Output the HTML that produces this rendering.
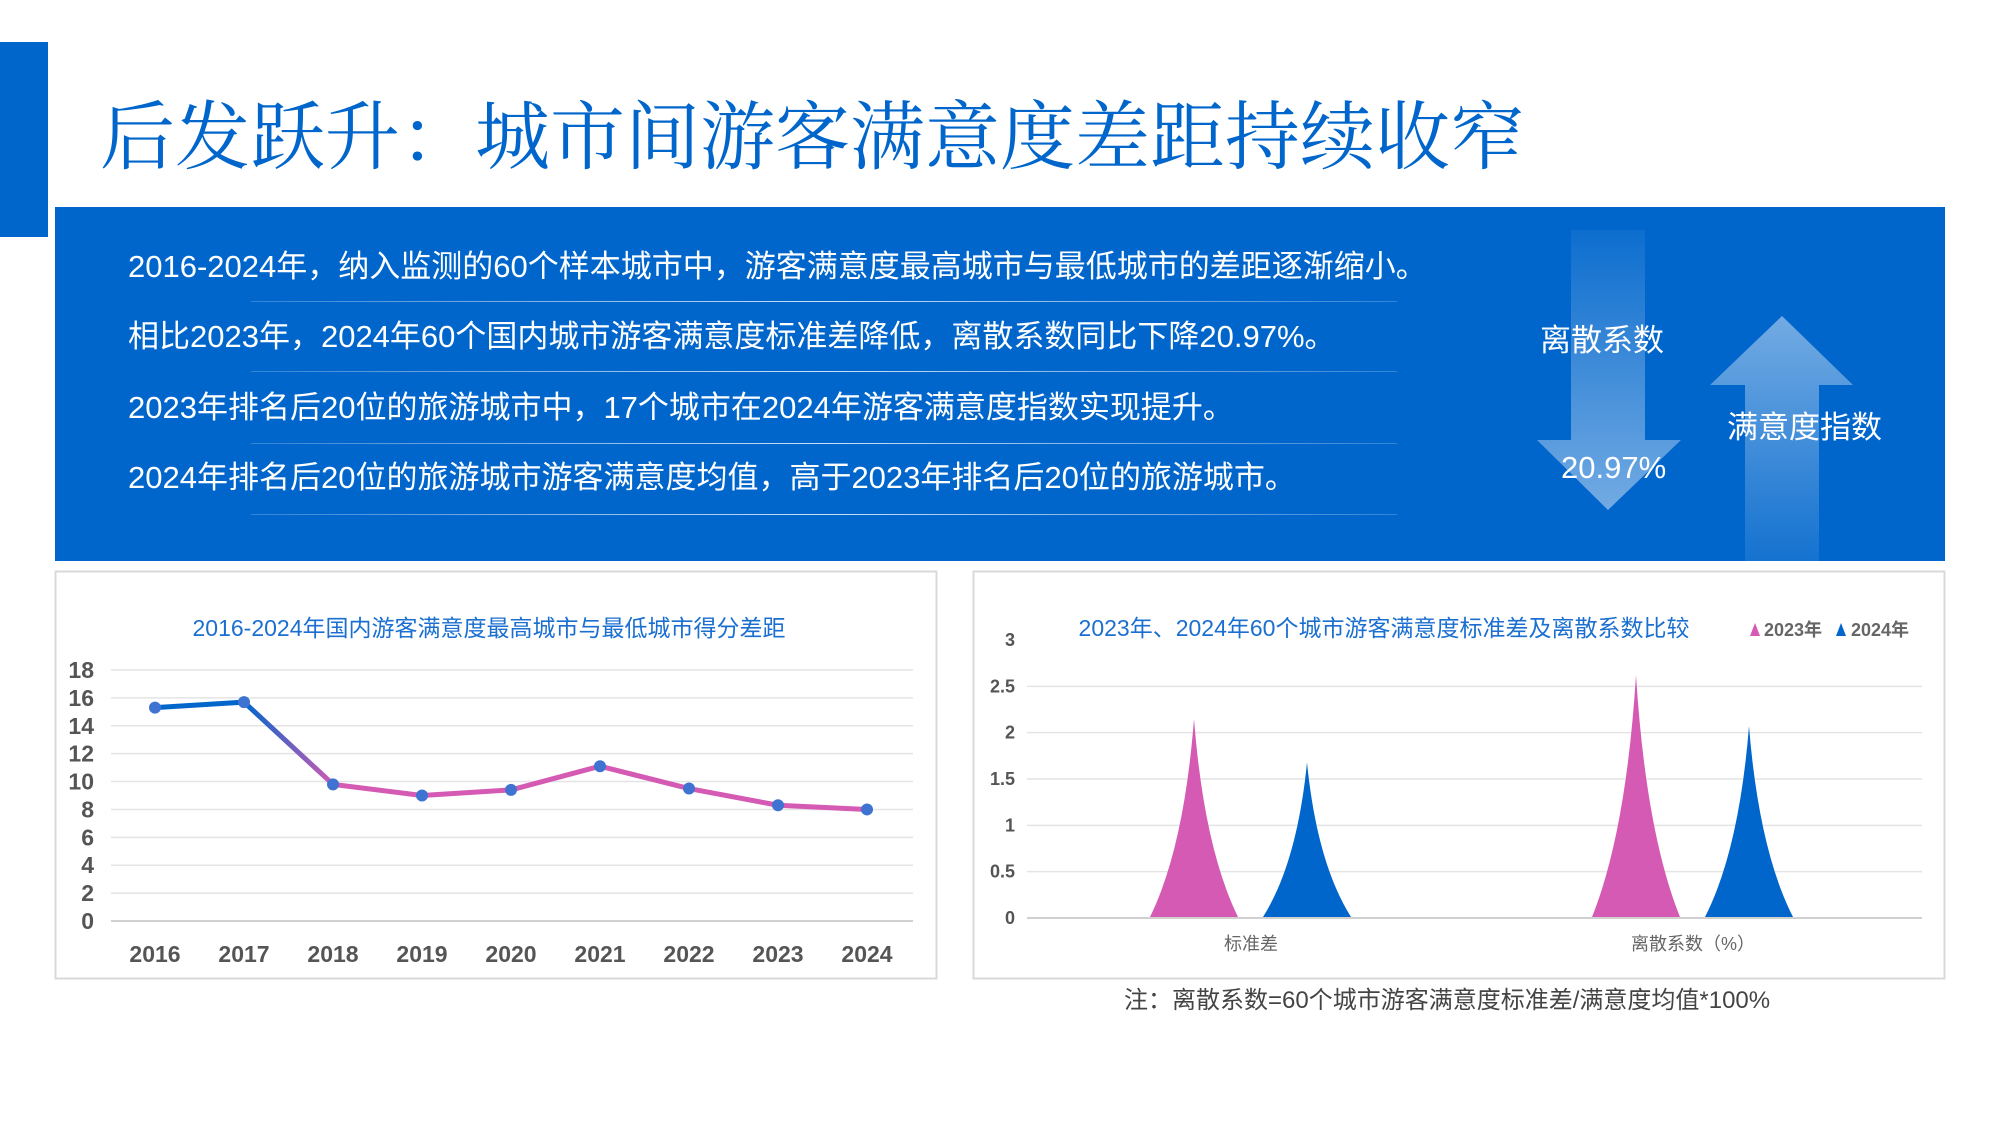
<!DOCTYPE html>
<html><head><meta charset="utf-8">
<style>
body{margin:0;width:2000px;height:1125px;background:#fff;position:relative;overflow:hidden;font-family:"Liberation Sans","Noto Sans CJK SC",sans-serif}
.abs{position:absolute}
.line{position:absolute;left:128px;color:#fff;font-size:31px;white-space:nowrap;line-height:40px}
.ul{position:absolute;left:251px;width:1146px;height:1px;background:linear-gradient(90deg,rgba(255,255,255,0.2),rgba(255,255,255,0.8),rgba(255,255,255,0.2))}
</style></head><body>
<div class="abs" style="left:0;top:42px;width:48px;height:195px;background:#0066cc"></div>
<div class="abs" style="left:100px;top:92px;font-size:75px;color:#0066cc;white-space:nowrap;line-height:90px;font-family:'Liberation Sans','Noto Serif CJK SC',serif">后发跃升：城市间游客满意度差距持续收窄</div>
<div class="abs" style="left:55px;top:207px;width:1890px;height:354px;background:#0066cc;overflow:hidden">
  <svg width="1890" height="354" style="position:absolute;left:0;top:0">
    <defs>
      <linearGradient id="dg" x1="0" y1="0" x2="0" y2="1"><stop offset="0" stop-color="#fff" stop-opacity="0.05"/><stop offset="1" stop-color="#fff" stop-opacity="0.45"/></linearGradient>
      <linearGradient id="ug" x1="0" y1="1" x2="0" y2="0"><stop offset="0" stop-color="#fff" stop-opacity="0.08"/><stop offset="1" stop-color="#fff" stop-opacity="0.45"/></linearGradient>
    </defs>
    <polygon fill="url(#dg)" points="1516,23 1590,23 1590,233 1626,233 1553,303 1482,233 1516,233"/>
    <polygon fill="url(#ug)" points="1727,109 1798,178 1764,178 1764,354 1690,354 1690,178 1655,178"/>
  </svg>
</div>
<div class="line" style="top:247px">2016-2024年，纳入监测的60个样本城市中，游客满意度最高城市与最低城市的差距逐渐缩小。</div>
<div class="ul" style="top:301px"></div>
<div class="line" style="top:317px">相比2023年，2024年60个国内城市游客满意度标准差降低，离散系数同比下降20.97%。</div>
<div class="ul" style="top:371px"></div>
<div class="line" style="top:388px">2023年排名后20位的旅游城市中，17个城市在2024年游客满意度指数实现提升。</div>
<div class="ul" style="top:443px"></div>
<div class="line" style="top:458px">2024年排名后20位的旅游城市游客满意度均值，高于2023年排名后20位的旅游城市。</div>
<div class="ul" style="top:514px"></div>
<div class="abs" style="left:1540px;top:315px;font-size:31px;color:#fff;white-space:nowrap">离散系数</div>
<div class="abs" style="left:1561px;top:450px;font-size:31px;color:#fff">20.97%</div>
<div class="abs" style="left:1727px;top:402px;font-size:31px;color:#fff;white-space:nowrap">满意度指数</div>

<svg class="abs" id="c1" style="left:0;top:0" width="2000" height="1125"></svg>
<div class="abs" style="left:1124px;top:980px;font-size:24px;color:#444;white-space:nowrap">注：离散系数=60个城市游客满意度标准差/满意度均值*100%</div>

<script>
const years=["2016","2017","2018","2019","2020","2021","2022","2023","2024"];
const gapValues=[15.3,15.7,9.8,9.0,9.4,11.1,9.5,8.3,8.0];
const gapTicks=[0,2,4,6,8,10,12,14,16,18];
const barCategories=["标准差","离散系数（%）"];
const series2023=[2.15,2.62];
const series2024=[1.68,2.07];
const barTicks=["0","0.5","1","1.5","2","2.5","3"];

const NS="http://www.w3.org/2000/svg";
const svg=document.getElementById('c1');
function mk(t,a,p){const e=document.createElementNS(NS,t);for(const k in a)e.setAttribute(k,a[k]);(p||svg).appendChild(e);return e;}

// defs
const defs=mk('defs',{});
const lg=mk('linearGradient',{id:'lineg',gradientUnits:'userSpaceOnUse',x1:'245',y1:'0',x2:'335',y2:'0'},defs);
mk('stop',{offset:'0','stop-color':'#0066cc'},lg);mk('stop',{offset:'1','stop-color':'#d45ab4'},lg);

// chart 1 frame
let r=mk('rect',{x:55.5,y:571.5,width:881,height:407,fill:'#fff',stroke:'#d9d9d9','stroke-width':2});

let t=mk('text',{x:489,y:636,'text-anchor':'middle','font-size':23,fill:'#1a6fd1'});t.textContent='2016-2024年国内游客满意度最高城市与最低城市得分差距';

const y1=v=>921-(v/18)*251;
const x1=i=>155+i*(867-155)/(years.length-1);
gapTicks.forEach(v=>{
  const g=mk('line',{x1:111,x2:913,y1:y1(v),y2:y1(v),stroke:v===0?'#d0d0d0':'#e4e4e4','stroke-width':v===0?2:1.5});
  
  const l=mk('text',{x:94,y:y1(v)+8,'text-anchor':'end','font-size':23,'font-weight':'bold',fill:'#555'});l.textContent=v;
  
});
years.forEach((y,i)=>{
  const l=mk('text',{x:x1(i),y:962,'text-anchor':'middle','font-size':23,'font-weight':'bold',fill:'#555'});l.textContent=y;
  
});
const pl=mk('polyline',{points:gapValues.map((v,i)=>x1(i)+','+y1(v)).join(' '),fill:'none',stroke:'url(#lineg)','stroke-width':5,'stroke-linejoin':'round'});

gapValues.forEach((v,i)=>{
  const c=mk('circle',{cx:x1(i),cy:y1(v),r:6,fill:'#3f73d1'});
  
});

// chart 2
r=mk('rect',{x:973.5,y:571.5,width:971,height:407,fill:'#fff',stroke:'#d9d9d9','stroke-width':2});

t=mk('text',{x:1384,y:636,'text-anchor':'middle','font-size':23,fill:'#1a6fd1'});t.textContent='2023年、2024年60个城市游客满意度标准差及离散系数比较';

const y2=v=>918-(v/3)*278;
barTicks.forEach(s=>{
  const v=parseFloat(s);
  if(v>0&&v<3){const g=mk('line',{x1:1027,x2:1922,y1:y2(v),y2:y2(v),stroke:'#e4e4e4','stroke-width':1.5});
  }
  const l=mk('text',{x:1015,y:y2(v)+6,'text-anchor':'end','font-size':18,'font-weight':'bold',fill:'#555'});l.textContent=s;
  
});
let ax=mk('line',{x1:1027,x2:1922,y1:918,y2:918,stroke:'#d0d0d0','stroke-width':2});

const cx2=[1251,1693];
function peak(cx,v,color){
  const top=y2(v),hw=44,b=917;
  const p=mk('path',{d:`M${cx-hw},${b} Q${cx-10},${b-(b-top)*0.35} ${cx},${top} Q${cx+10},${b-(b-top)*0.35} ${cx+hw},${b} Z`,fill:color});
  return p;
}
barCategories.forEach((c,i)=>{
  let p=peak(cx2[i]-57,series2023[i],'#d45ab4');
  
  p=peak(cx2[i]+56,series2024[i],'#0066cc');
  
  const l=mk('text',{x:cx2[i],y:950,'text-anchor':'middle','font-size':18,fill:'#666'});l.textContent=c;
  
});
// legend
let lp=mk('polygon',{points:'1750,636 1755,623 1760,636',fill:'#d45ab4'});

t=mk('text',{x:1764,y:636,'font-size':18,'font-weight':'bold',fill:'#666'});t.textContent='2023年';

lp=mk('polygon',{points:'1836,636 1841,623 1846,636',fill:'#0066cc'});

t=mk('text',{x:1851,y:636,'font-size':18,'font-weight':'bold',fill:'#666'});t.textContent='2024年';

</script>
</body></html>
